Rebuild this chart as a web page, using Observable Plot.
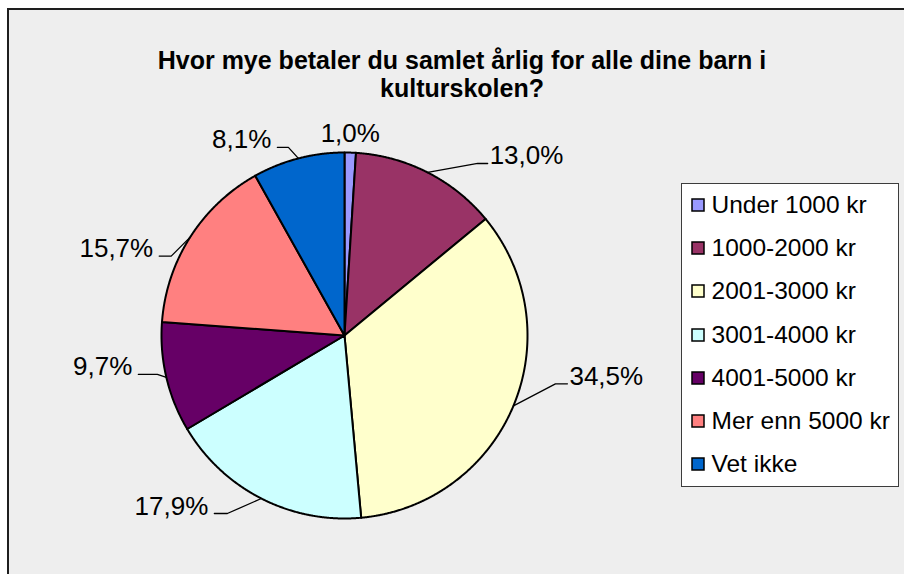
<!DOCTYPE html>
<html><head><meta charset="utf-8">
<script src="https://cdn.jsdelivr.net/npm/d3@7"></script>
<script src="https://cdn.jsdelivr.net/npm/@observablehq/plot@0.6"></script>
<style>
html,body{margin:0;padding:0;background:#fff;width:904px;height:574px;overflow:hidden;font-family:"Liberation Sans",Arial,sans-serif;}
#wrap{position:relative;width:904px;height:574px;overflow:hidden;}
#frame{position:absolute;left:7px;top:8px;width:1000px;height:700px;border-left:2px solid #1e1e1e;border-top:2px solid #1e1e1e;background:#eeeeee;}
#title{position:absolute;left:62px;width:800px;top:46px;text-align:center;font-weight:bold;font-size:25px;line-height:28px;color:#000;}
#chart{position:absolute;left:0;top:0;}
#legend{position:absolute;left:681px;top:183px;width:218px;height:304px;box-sizing:border-box;border:1px solid #3c3c3c;background:#fff;padding-left:10px;overflow:hidden;}
#legend .lg-swatches{margin:0;margin-top:-1px;}
#legend .lg-swatch{height:43.3px;padding:0;display:flex;align-items:center;}
#legend .lg-swatch > svg{margin-right:7.5px;overflow:visible;}
#legend .lg-swatch svg rect{stroke:#000;stroke-width:1.5px;}
#legend .lg-swatch-label{font-size:24.5px;color:#000;font-family:"Liberation Sans",Arial,sans-serif;overflow:visible;}
</style>
</head><body>
<div id="wrap">
  <div id="frame"></div>
  <div id="chart"></div>
  <div id="title">Hvor mye betaler du samlet årlig for alle dine barn i<br>kulturskolen?</div>
  <div id="legend"></div>
</div>
<script>
// ---- data ----
const categories = ["Under 1000 kr", "1000-2000 kr", "2001-3000 kr", "3001-4000 kr", "4001-5000 kr", "Mer enn 5000 kr", "Vet ikke"];
const shares = [1.0, 13.0, 34.5, 17.9, 9.7, 15.7, 8.1];
const labels = ["1,0%", "13,0%", "34,5%", "17,9%", "9,7%", "15,7%", "8,1%"];
const colors = ["#9999FF", "#993366", "#FFFFCC", "#CCFFFF", "#660066", "#FF8080", "#0066CC"];

// ---- layout (not data) ----
const R = 183;
// leader elbow offset (screen px) from the slice's edge point, and horizontal tail length (sign = side)
const leaderLayout = [
  {dx: 0, dy: -11, tail: 0},
  {dx: 50, dy: -9, tail: 10},
  {dx: 42, dy: -22, tail: 12},
  {dx: -34, dy: 15, tail: -13},
  {dx: -9, dy: -3, tail: -19},
  {dx: -19, dy: 19, tail: -12},
  {dx: -10, dy: -11, tail: -11}
];

const arcs = d3.pie().sort(null).value(d => d)(shares);

const slicePts = [];
const leaderPts = [];
const labelPts = [];
arcs.forEach((a, i) => {
  const key = categories[i];
  slicePts.push({key, x: 0, y: 0});
  const n = Math.max(2, Math.ceil((a.endAngle - a.startAngle) / (Math.PI / 720)));
  for (let k = 0; k <= n; k++) {
    const t = a.startAngle + (a.endAngle - a.startAngle) * k / n;
    slicePts.push({key, x: R * Math.sin(t), y: R * Math.cos(t)});
  }
  slicePts.push({key, x: 0, y: 0});

  const mid = (a.startAngle + a.endAngle) / 2;
  const ex = R * Math.sin(mid), ey = R * Math.cos(mid);
  const L = leaderLayout[i];
  const bx = ex + L.dx, by = ey - L.dy;
  const tx = bx + L.tail;
  if (L.tail !== 0) {
    leaderPts.push({key, x: ex, y: ey}, {key, x: bx, y: by}, {key, x: tx, y: by});
  }
  const anchor = L.tail > 0 ? "start" : L.tail < 0 ? "end" : "middle";
  const lx = anchor === "start" ? tx + 2 : anchor === "end" ? tx - 6 : bx;
  labelPts.push({key, label: labels[i], anchor, x: lx, y: L.tail === 0 ? by : by - 1});
});

const font = '"Liberation Sans", Arial, sans-serif';
const textMark = (anchor) => Plot.text(labelPts.filter(d => d.anchor === anchor), {
  x: "x", y: "y", text: "label", textAnchor: anchor, lineAnchor: "bottom",
  fontSize: 26, fill: "#000", fontFamily: font
});

const chart = Plot.plot({
  width: 904, height: 574, margin: 0,
  x: {domain: [-344, 560], axis: null},
  y: {domain: [-239, 335], axis: null},
  color: {domain: categories, range: colors},
  style: {background: "transparent", overflow: "visible", fontFamily: font},
  marks: [
    Plot.line(slicePts, {x: "x", y: "y", z: "key", fill: "key", stroke: "#000", strokeWidth: 2, strokeLinejoin: "round"}),
    Plot.line(leaderPts, {x: "x", y: "y", z: "key", stroke: "#000", strokeWidth: 1.3}),
    textMark("start"),
    textMark("end"),
    textMark("middle")
  ]
});
document.getElementById("chart").appendChild(chart);

const legend = Plot.legend({
  color: {domain: categories, range: colors},
  legend: "swatches", columns: 1, swatchSize: 12, className: "lg",
  style: {fontFamily: font, fontSize: "24.5px", color: "#000"}
});
document.getElementById("legend").appendChild(legend);
</script>
</body></html>
